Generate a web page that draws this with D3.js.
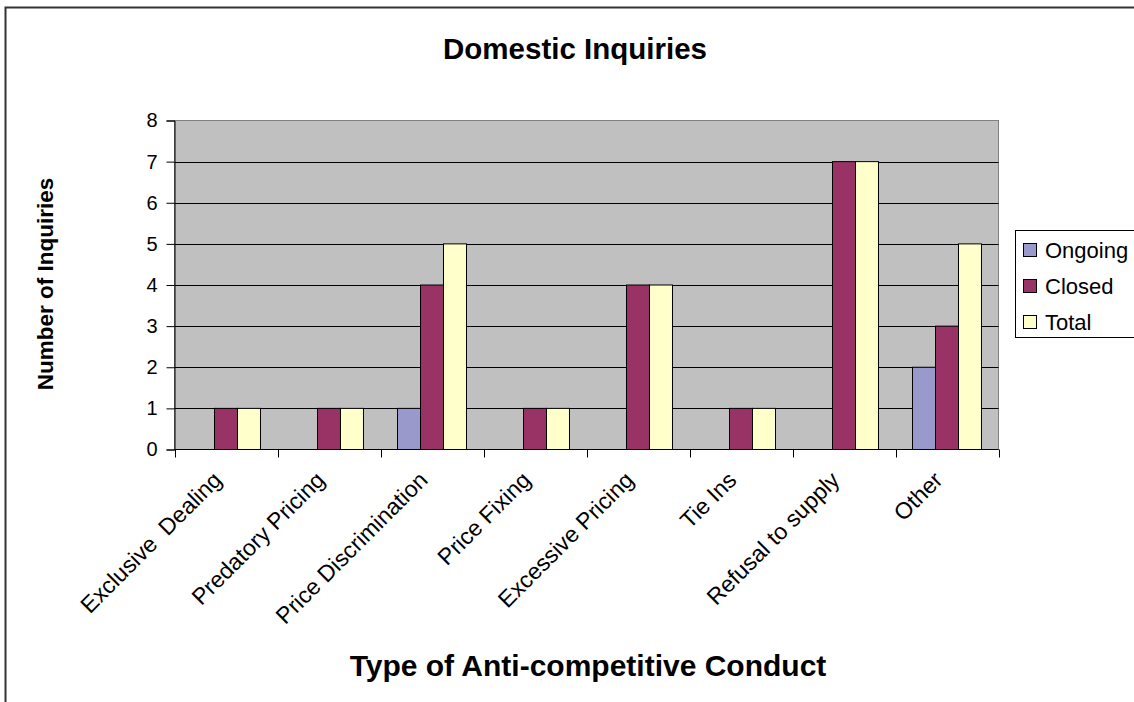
<!DOCTYPE html>
<html><head><meta charset="utf-8">
<script src="https://cdn.jsdelivr.net/npm/d3@7"></script>
<style>body{margin:0;background:#fff}svg{display:block;font-family:Arial,"Liberation Sans",sans-serif}</style>
</head><body><svg id="c" width="1134" height="702"></svg>
<script>
const categories = ["Exclusive  Dealing","Predatory Pricing","Price Discrimination","Price Fixing","Excessive Pricing","Tie Ins","Refusal to supply","Other"];
const seriesNames = ["Ongoing","Closed","Total"];
const ongoing = [0,0,1,0,0,0,0,2];
const closed  = [1,1,4,1,4,1,7,3];
const total   = [1,1,5,1,4,1,7,5];
const yTicks = [0,1,2,3,4,5,6,7,8];
const colors = ["#9999CC","#993366","#FFFFCC"];

const series = [ongoing, closed, total];
const svg = d3.select("#c");
const L = 174.5, R = 998.5, T = 120.5, B = 449.5;

// outer frame
svg.append("rect").attr("x",5.5).attr("y",7.5).attr("width",1140).attr("height",700)
  .attr("fill","none").attr("stroke","#333").attr("stroke-width",2);

const x = d3.scaleBand().domain(categories).range([L, R]).paddingInner(0).paddingOuter(0);
const xs = d3.scaleBand().domain(seriesNames).range([0, x.bandwidth()]).paddingInner(0).paddingOuter(0.74);
const y = d3.scaleLinear().domain([0,8]).range([B, T]);

// plot bg
svg.append("rect").attr("x",L).attr("y",T).attr("width",R-L).attr("height",B-T).attr("fill","#C0C0C0")
  .attr("stroke","#808080").attr("stroke-width",1);

// gridlines
svg.append("g").selectAll("line").data(yTicks.filter(d=>d>0 && d<8)).join("line")
  .attr("x1",L).attr("x2",R).attr("y1",d=>Math.round(y(d))+0.5).attr("y2",d=>Math.round(y(d))+0.5)
  .attr("stroke","#000").attr("stroke-width",1);

// bars
const g = svg.append("g");
series.forEach((vals,si)=>{
  g.selectAll(null).data(categories.map((c,i)=>({c,v:vals[i]})).filter(d=>d.v>0)).join("rect")
    .attr("x",d=>x(d.c)+xs(seriesNames[si]))
    .attr("width",xs.bandwidth())
    .attr("y",d=>y(d.v))
    .attr("height",d=>y(0)-y(d.v))
    .attr("fill",colors[si]).attr("stroke","#000").attr("stroke-width",1);
});

// y axis
const yAxis = d3.axisLeft(y).tickValues(yTicks).tickSize(8).tickPadding(9).tickFormat(d3.format("d"));
const ya = svg.append("g").attr("transform",`translate(${L},0)`).call(yAxis);
ya.select(".domain").attr("stroke","#000");
ya.selectAll("text").attr("font-size",20).attr("fill","#000").attr("font-family","Arial,'Liberation Sans',sans-serif");

// x axis (ticks at boundaries)
const xa = svg.append("g").attr("transform",`translate(0,${B})`);
xa.append("line").attr("x1",L).attr("x2",R).attr("stroke","#000");
xa.selectAll("line.t").data(d3.range(categories.length+1)).join("line").attr("class","t")
  .attr("x1",i=>Math.round(L+i*x.bandwidth())+0.5).attr("x2",i=>Math.round(L+i*x.bandwidth())+0.5)
  .attr("y1",0).attr("y2",8).attr("stroke","#000");
svg.append("g").selectAll("text").data(categories).join("text")
  .attr("transform",d=>`translate(${x(d)+x.bandwidth()/2-3},${B+32}) rotate(-45)`)
  .attr("text-anchor","end").attr("font-size",23).attr("fill","#000")
  .attr("xml:space","preserve").style("white-space","pre")
  .text(d=>d);

// titles
svg.append("text").attr("x",575).attr("y",59).attr("text-anchor","middle")
  .attr("font-size",29.5).attr("font-weight","bold").text("Domestic Inquiries");
svg.append("text").attr("x",588).attr("y",676).attr("text-anchor","middle")
  .attr("font-size",30).attr("font-weight","bold").text("Type of Anti-competitive Conduct");
svg.append("text").attr("transform","translate(53,284) rotate(-90)").attr("text-anchor","middle")
  .attr("font-size",22.5).attr("font-weight","bold").text("Number of Inquiries");

// legend
const lg = svg.append("g");
lg.append("rect").attr("x",1015.5).attr("y",230.5).attr("width",130).attr("height",107)
  .attr("fill","#fff").attr("stroke","#000");
seriesNames.forEach((s,i)=>{
  const cy = 250 + i*36;
  lg.append("rect").attr("x",1023.5).attr("y",cy-6.5).attr("width",13).attr("height",13)
    .attr("fill",colors[i]).attr("stroke","#000");
  lg.append("text").attr("x",1045).attr("y",cy+8).attr("font-size",22).attr("fill","#000").text(s);
});
</script></body></html>
